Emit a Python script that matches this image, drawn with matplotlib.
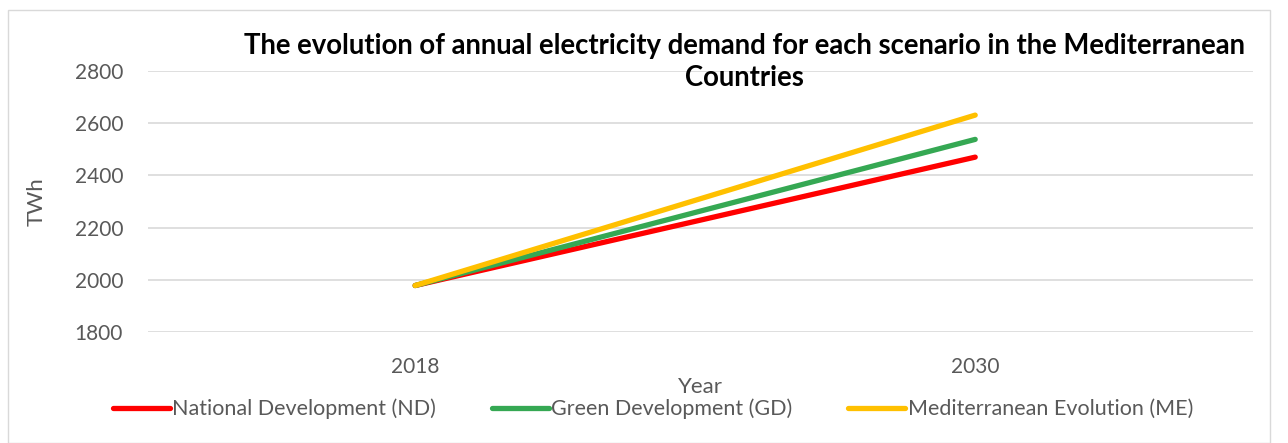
import matplotlib.pyplot as plt
from matplotlib.patches import Rectangle

years = ['2018', '2030']
nd = [1978, 2470]
gd = [1978, 2538]
me = [1978, 2631]
series_names = ['National Development (ND)', 'Green Development (GD)', 'Mediterranean Evolution (ME)']
colors = ['#ff0000', '#35a853', '#ffc000']

plt.rcParams['font.family'] = ['Lato', 'DejaVu Sans']
grey = '#595959'

fig = plt.figure(figsize=(12.88, 4.43), dpi=100)
ax = fig.add_axes([148 / 1288, 1 - 332 / 443, (1253 - 148) / 1288, (332 - 71) / 443])

x = list(range(len(years)))
for vals, name, c in zip([nd, gd, me], series_names, colors):
    ax.plot(x, vals, color=c, lw=3.8, solid_capstyle='round', label=name)

ax.set_xlim(-0.477, 1.496)
ax.set_ylim(1800, 2800)
ax.set_yticks(range(1800, 2801, 200))
ax.set_xticks(x)
ax.set_xticklabels(years)
ax.grid(axis='y', color='#d9d9d9', lw=1.2)
ax.set_axisbelow(True)
for s in ax.spines.values():
    s.set_visible(False)
ax.tick_params(axis='both', length=0, colors=grey, labelsize=15)
ax.tick_params(axis='x', pad=18)
ax.tick_params(axis='y', pad=18)

ax.set_ylabel('TWh', color=grey, fontsize=16, labelpad=20)
ax.set_xlabel('Year', color=grey, fontsize=16, labelpad=0)

fig.text(744 / 1288, 1 - 62 / 443, 'The evolution of annual electricity demand for each scenario in the Mediterranean\nCountries',
         ha='center', va='center', fontsize=19.8, fontweight='bold', color='black', linespacing=1.3)

leg = fig.legend(loc='center', bbox_to_anchor=(653 / 1288, 1 - 409 / 443), ncol=3, frameon=False,
                 fontsize=15.5, handlelength=2.65, handletextpad=0.1, columnspacing=2.6)
for t in leg.get_texts():
    t.set_color(grey)

fig.patches.append(Rectangle((8 / 1288, 0), 1262 / 1288, 1 - 10 / 443, transform=fig.transFigure,
                             fill=False, edgecolor='#d9d9d9', lw=1))

fig.savefig('out.png', dpi=100)
